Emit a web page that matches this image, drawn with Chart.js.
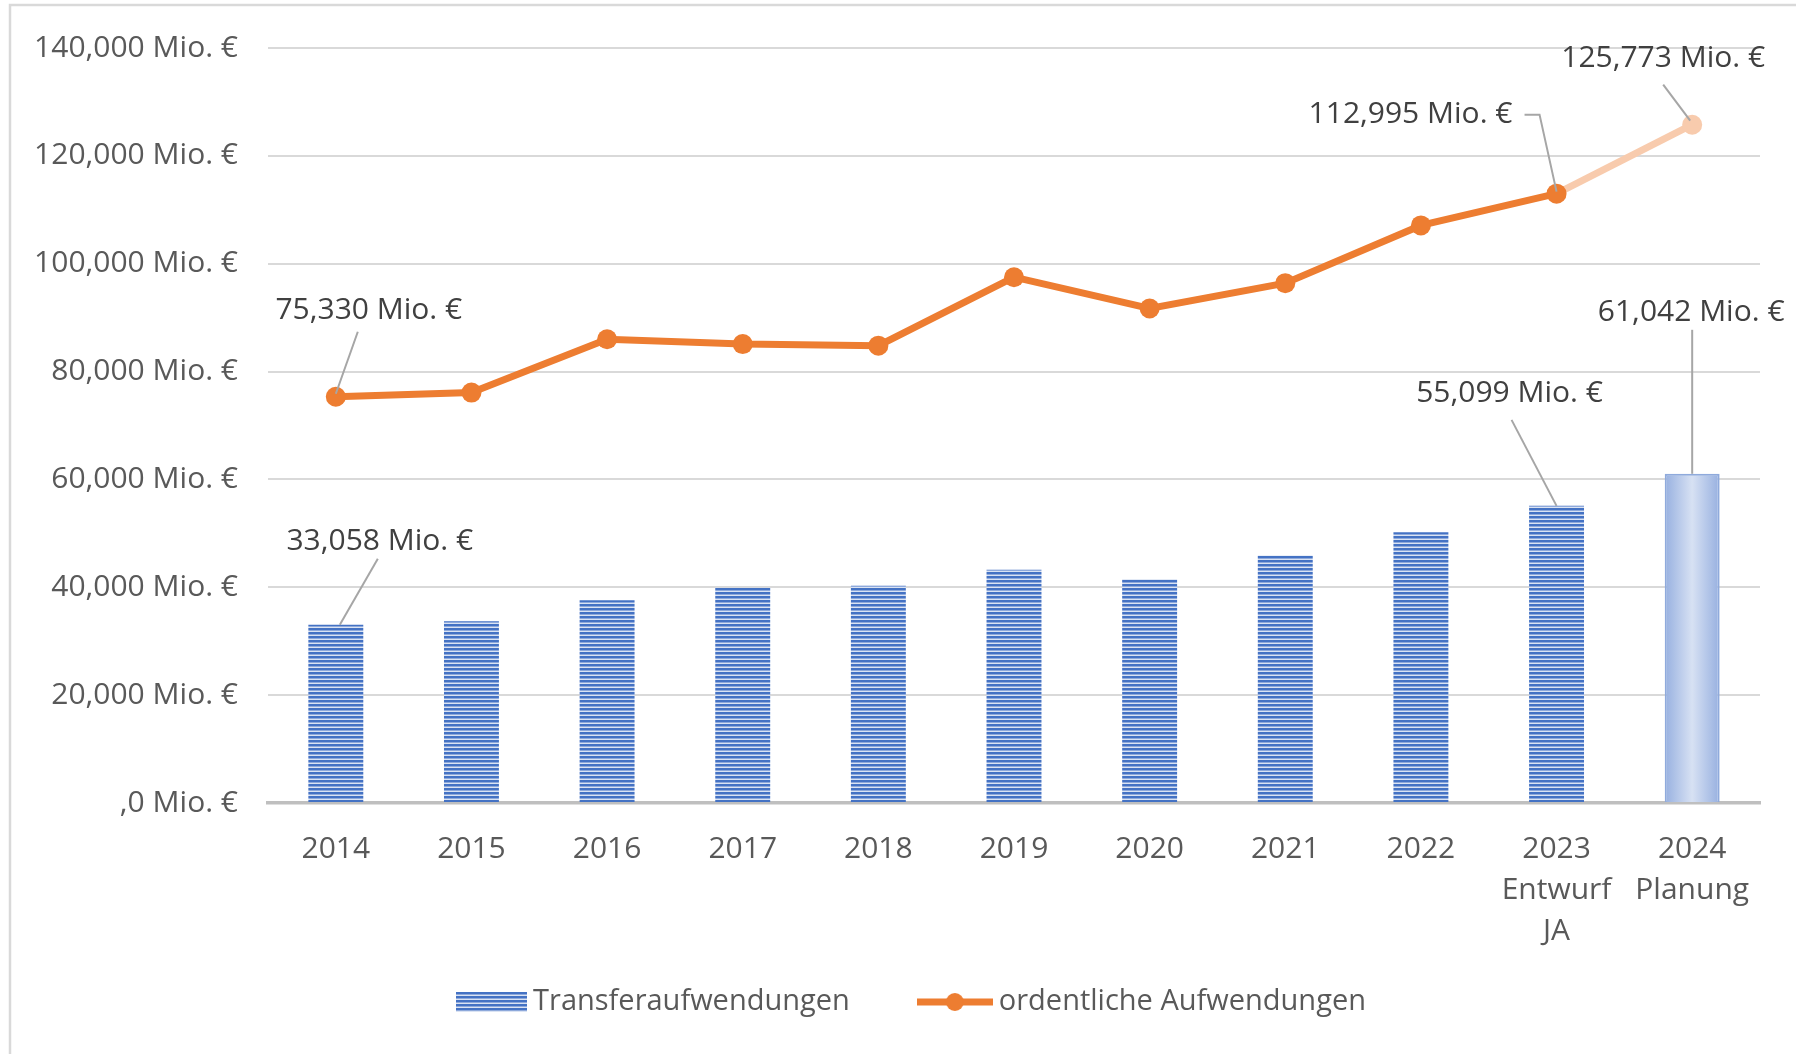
<!DOCTYPE html>
<html lang="de">
<head>
<meta charset="utf-8">
<title>Transferaufwendungen und ordentliche Aufwendungen</title>
<script src="https://cdn.jsdelivr.net/npm/chart.js@4.4.1/dist/chart.umd.min.js"></script>
<style>
  html, body { margin: 0; padding: 0; background: #fff; }
  #wrap { position: relative; width: 1796px; height: 1054px; }
</style>
</head>
<body>
<div id="wrap"><canvas id="chart"></canvas></div>
<script>
// Daten
const years = ['2014', '2015', '2016', '2017', '2018', '2019', '2020', '2021', '2022',
  ['2023', 'Entwurf', 'JA'], ['2024', 'Planung']];
const transferValues = [33058, 33700, 37600, 39900, 40300, 43250, 41500, 45900, 50200, 55099, 61042];
const ordentlicheValues = [75330, 76100, 86000, 85100, 84800, 97500, 91700, 96400, 107100, 112995, 125773];
const yTickLabels = [',0 Mio. €', '20,000 Mio. €', '40,000 Mio. €', '60,000 Mio. €',
  '80,000 Mio. €', '100,000 Mio. €', '120,000 Mio. €', '140,000 Mio. €'];
const labelledBars = [0, 9, 10];
const labelledPoints = [0, 9, 10];

const planIndex = years.length - 1;
const FONT = "'Open Sans', 'Noto Sans', sans-serif";
const FONT_SIZE = 30;
const TEXT = '#595959';
const BAR_PCT = 0.405;

// Callout-Positionen (Pixelversatz zum Element)
const calloutStyle = {
  bar: {
    0: { dx: 44, dy: -83, path: [[42, -66], [4, 0]] },
    9: { dx: -47, dy: -112, path: [[-45, -86], [0, 0]] },
    10: { dx: -1, dy: -161, path: [[0, -144], [0, 0]] }
  },
  line: {
    0: { dx: 33, dy: -86, path: [[22, -65], [0, -3]] },
    9: { dx: -146, dy: -79, path: [[-32, -79], [-17, -79], [0, -2]] },
    10: { dx: -29, dy: -66, path: [[-29, -40], [-2, -4]] }
  }
};

function fmt(v) {
  return v.toLocaleString('en-US') + ' Mio. €';
}

// Streifenmuster der Balken
function stripeCanvas(w, h) {
  const c = document.createElement('canvas');
  c.width = w; c.height = h;
  const g = c.getContext('2d');
  for (let y = 0; y < h; y += 4) {
    g.fillStyle = '#4472c4'; g.fillRect(0, y, w, 2);
    g.fillStyle = '#8ea9db'; g.fillRect(0, y + 2, w, 1);
    g.fillStyle = '#dae3f3'; g.fillRect(0, y + 3, w, 1);
  }
  return c;
}
const stripes = document.createElement('canvas').getContext('2d')
  .createPattern(stripeCanvas(8, 4), 'repeat');

function lineIcon() {
  const c = document.createElement('canvas');
  c.width = 76; c.height = 24;
  const g = c.getContext('2d');
  g.strokeStyle = '#ed7d31'; g.lineWidth = 7;
  g.beginPath(); g.moveTo(0, 12); g.lineTo(76, 12); g.stroke();
  g.fillStyle = '#ed7d31';
  g.beginPath(); g.arc(38, 12, 9, 0, Math.PI * 2); g.fill();
  return c;
}

const framePlugin = {
  id: 'frame',
  beforeDraw(chart) {
    const ctx = chart.ctx;
    ctx.save();
    ctx.strokeStyle = '#d9d9d9';
    ctx.lineWidth = 2.5;
    ctx.beginPath();
    ctx.moveTo(10, chart.height);
    ctx.lineTo(10, 5);
    ctx.lineTo(chart.width, 5);
    ctx.stroke();
    ctx.restore();
  }
};

const calloutPlugin = {
  id: 'callouts',
  afterDatasetsDraw(chart) {
    const ctx = chart.ctx;
    ctx.save();
    ctx.font = `${FONT_SIZE}px ${FONT}`;
    ctx.textAlign = 'center';
    ctx.textBaseline = 'middle';
    const sets = [
      { meta: chart.getDatasetMeta(0), idx: labelledBars, style: calloutStyle.bar, values: transferValues },
      { meta: chart.getDatasetMeta(1), idx: labelledPoints, style: calloutStyle.line, values: ordentlicheValues }
    ];
    sets.forEach(s => {
      s.idx.forEach(i => {
        const el = s.meta.data[i];
        const st = s.style[i];
        if (!el || !st) return;
        ctx.strokeStyle = '#a6a6a6';
        ctx.lineWidth = 2;
        ctx.beginPath();
        st.path.forEach((p, k) => {
          if (k === 0) ctx.moveTo(el.x + p[0], el.y + p[1]);
          else ctx.lineTo(el.x + p[0], el.y + p[1]);
        });
        ctx.stroke();
        ctx.fillStyle = '#404040';
        ctx.fillText(fmt(s.values[i]), el.x + st.dx, el.y + st.dy);
      });
    });
    ctx.restore();
  }
};

const legendPlugin = {
  id: 'customLegend',
  afterDraw(chart) {
    const ctx = chart.ctx;
    ctx.save();
    ctx.font = `29px ${FONT}`;
    ctx.textBaseline = 'middle';
    ctx.textAlign = 'left';
    const icons = [stripeCanvas(71, 20), lineIcon()];
    const items = chart.data.datasets.map((d, i) => ({ text: d.label, icon: icons[i] }));
    const gap = 6, itemGap = 67;
    let total = 0;
    items.forEach((it, i) => {
      it.w = it.icon.width + gap + ctx.measureText(it.text).width;
      total += it.w + (i ? itemGap : 0);
    });
    let x = 911 - total / 2;
    const y = 1002;
    items.forEach(it => {
      ctx.drawImage(it.icon, x, y - it.icon.height / 2);
      ctx.fillStyle = TEXT;
      ctx.fillText(it.text, x + it.icon.width + gap, y);
      x += it.w + itemGap;
    });
    ctx.restore();
  }
};

new Chart(document.getElementById('chart'), {
  data: {
    labels: years,
    datasets: [
      {
        type: 'bar',
        label: 'Transferaufwendungen',
        data: transferValues,
        order: 2,
        categoryPercentage: 1,
        barPercentage: BAR_PCT,
        backgroundColor: ctx => {
          if (ctx.dataIndex !== planIndex) return stripes;
          const chart = ctx.chart;
          const xs = chart.scales.x;
          if (!chart.chartArea || !xs) return '#b4c7e7';
          const cx = xs.getPixelForValue(ctx.dataIndex);
          const half = (xs.getPixelForValue(1) - xs.getPixelForValue(0)) * BAR_PCT / 2;
          const g = chart.ctx.createLinearGradient(cx - half, 0, cx + half, 0);
          g.addColorStop(0, '#97b0e0');
          g.addColorStop(0.5, '#d7e1f3');
          g.addColorStop(1, '#97b0e0');
          return g;
        },
        borderColor: '#8faadc',
        borderWidth: ctx => ctx.dataIndex === planIndex ? 2 : 0
      },
      {
        type: 'line',
        label: 'ordentliche Aufwendungen',
        data: ordentlicheValues,
        order: 1,
        borderColor: '#ed7d31',
        borderWidth: 7,
        tension: 0,
        pointRadius: 10,
        pointHoverRadius: 10,
        pointBorderWidth: 0,
        pointBackgroundColor: ctx => ctx.dataIndex === planIndex ? '#f8cbad' : '#ed7d31',
        segment: {
          borderColor: ctx => ctx.p1DataIndex === planIndex ? '#f8cbad' : undefined
        }
      }
    ]
  },
  options: {
    responsive: true,
    maintainAspectRatio: false,
    animation: false,
    layout: { padding: { left: 0, right: 36, top: 47, bottom: 78 } },
    plugins: {
      legend: { display: false },
      tooltip: { enabled: false }
    },
    scales: {
      x: {
        grid: { display: false, drawTicks: false },
        border: { color: '#bfbfbf', width: 3.5 },
        ticks: {
          color: TEXT,
          font: { family: FONT, size: FONT_SIZE, lineHeight: 1.37 },
          padding: 26,
          maxRotation: 0,
          autoSkip: false
        },
        afterFit: s => { s.height = 173; }
      },
      y: {
        min: 0,
        max: 140000,
        grid: { color: '#d9d9d9', lineWidth: 2, drawTicks: false },
        border: { display: false },
        ticks: {
          stepSize: 20000,
          color: TEXT,
          font: { family: FONT, size: FONT_SIZE },
          padding: 30,
          callback: (v, i) => yTickLabels[i]
        },
        afterFit: s => { s.width = 268; }
      }
    }
  },
  plugins: [framePlugin, calloutPlugin, legendPlugin]
});
</script>
</body>
</html>
